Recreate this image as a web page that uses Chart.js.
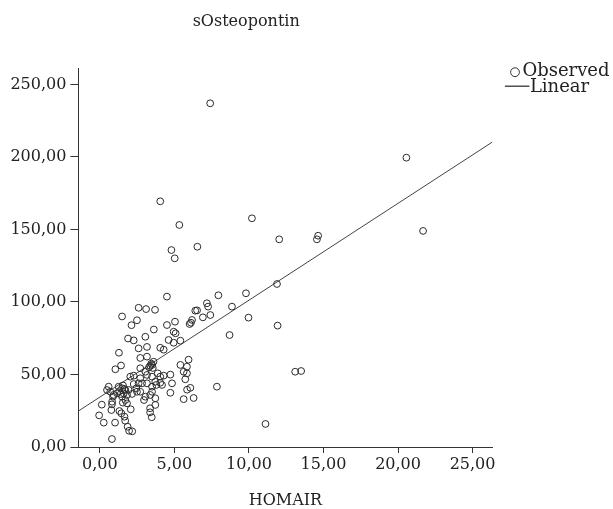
<!DOCTYPE html>
<html lang="en">
<head>
  <meta charset="UTF-8" />
  <script src="https://cdn.jsdelivr.net/npm/chart.js"></script>
  <title>sOsteopontin - HOMAIR</title>
  <style>
    html, body { margin: 0; padding: 0; background: #fff; }
  </style>
</head>
<body>
  <canvas id="grafico" width="613" height="509"></canvas>
  <script>
    // HOMAIR (eje X) y sOsteopontin (eje Y)
    const homair = [
      7.40, 4.05, 5.33, 10.20, 12.03, 14.64, 14.56, 20.56, 21.68, 6.54,
      4.80, 5.02, 11.88, 9.80, 7.95, 4.50, 8.86, 9.97, 11.92, 8.70,
      13.10, 13.50, 11.11, 7.85, 2.60, 3.10, 3.70, 1.49, 2.49, 2.12,
      3.62, 1.89, 2.27, 3.05, 2.60, 3.16, 1.28, 2.71, 4.50, 5.04,
      4.95, 5.08, 4.61, 4.95, 5.40, 4.05, 4.28, 6.40, 6.52, 7.18,
      7.26, 6.91, 7.41, 6.18, 6.11, 6.02, 3.60, 3.50, 3.38, 3.16,
      5.95, 5.40, 5.84, 5.62, 5.84, 5.73, 4.28, 4.05, 4.73, 3.50,
      3.72, 4.17, 6.07, 5.85, 4.73, 6.29, 5.62, 4.84, 3.88, 2.71,
      1.04, 1.42, 2.04, 2.27, 3.05, 3.16, 2.71, 2.83, 2.60, 3.16,
      3.50, 4.05, 3.79, 3.50, 3.38, 3.05, 2.71, 2.49, 2.45, 2.27,
      3.72, 3.72, 3.37, 3.37, 3.48, 2.96, 1.26, 1.49, 1.71, 1.60,
      1.82, 1.49, 1.71, 1.82, 0.59, 0.48, 0.70, 0.92, 0.82, 1.93,
      2.16, 0.88, 1.15, 1.54, 0.81, 0.13, 1.31, 1.44, 1.65, 1.70,
      1.86, 1.96, 2.17, 2.07, -0.05, 0.26, 1.02, 0.81, 0.77, 3.30,
      3.45, 3.55, 1.40, 1.55, 1.30, 1.65
    ];
    const osteopontin = [
      237.0, 169.4, 153.1, 157.7, 143.2, 145.7, 143.2, 199.5, 149.0, 138.1,
      135.8, 130.1, 112.4, 106.0, 104.6, 103.7, 96.8, 89.2, 83.7, 77.2,
      51.9, 52.4, 15.9, 41.6, 96.0, 95.1, 94.6, 90.0, 87.4, 84.0,
      81.0, 74.8, 73.5, 76.0, 68.0, 69.0, 65.0, 61.4, 84.1, 86.4,
      79.5, 78.4, 73.8, 71.9, 73.3, 68.4, 67.1, 94.0, 94.2, 99.1,
      96.8, 89.4, 91.0, 87.6, 85.7, 84.8, 58.8, 56.6, 56.0, 62.3,
      60.2, 56.6, 55.4, 51.9, 50.8, 46.7, 49.2, 48.5, 49.9, 48.5,
      45.0, 42.8, 40.8, 39.5, 37.4, 33.8, 33.0, 43.9, 50.8, 54.3,
      53.6, 56.2, 48.5, 49.2, 51.9, 49.7, 47.4, 43.9, 43.9, 43.9,
      41.6, 44.3, 42.8, 38.1, 35.9, 34.7, 38.1, 38.1, 40.5, 43.4,
      33.6, 29.0, 26.7, 23.9, 20.5, 32.4, 41.6, 40.5, 39.3, 37.0,
      35.9, 34.7, 32.4, 30.1, 41.6, 39.3, 38.1, 35.9, 31.2, 39.3,
      36.6, 34.7, 37.0, 30.6, 29.4, 29.2, 24.8, 23.2, 20.9, 18.1,
      14.0, 11.2, 10.8, 26.0, 21.8, 16.8, 16.8, 5.5, 25.5, 55.0,
      57.5, 54.5, 36.5, 42.5, 38.5, 40.0
    ];
    // extremos de la recta de ajuste lineal
    const lineaX = [-1.44, 26.33];
    const lineaY = [24.8, 210.3];
    const ticksX = [0, 5, 10, 15, 20, 25];
    const ticksY = [0, 50, 100, 150, 200, 250];
    const etiquetas = ['Observed', 'Linear'];

    const fuente = '"DejaVu Serif", serif';
    const formato = v => v.toFixed(2).replace('.', ',');

    // leyenda a la derecha, como en SPSS
    const leyenda = {
      id: 'leyenda',
      afterDraw(chart) {
        const ctx = chart.ctx;
        const x0 = chart.chartArea.right;
        const y0 = chart.chartArea.top;
        ctx.save();
        ctx.font = '18px ' + fuente;
        ctx.fillStyle = '#222';
        ctx.strokeStyle = '#333';
        ctx.lineWidth = 1;
        ctx.textBaseline = 'middle';
        ctx.beginPath();
        ctx.arc(x0 + 22.6, y0 + 4, 4.4, 0, 2 * Math.PI);
        ctx.stroke();
        ctx.fillText(etiquetas[0], x0 + 30, y0 + 3);
        ctx.lineWidth = 1.3;
        ctx.beginPath();
        ctx.moveTo(x0 + 12.5, y0 + 18);
        ctx.lineTo(x0 + 37, y0 + 18);
        ctx.stroke();
        ctx.fillText(etiquetas[1], x0 + 37.5, y0 + 19);
        ctx.restore();
      }
    };

    const ctx = document.getElementById('grafico').getContext('2d');
    new Chart(ctx, {
      type: 'scatter',
      data: {
        datasets: [
          {
            label: etiquetas[0],
            data: homair.map((x, i) => ({ x: x, y: osteopontin[i] })),
            pointRadius: 3.4,
            pointStyle: 'circle',
            borderWidth: 1,
            borderColor: '#2a2a2a',
            backgroundColor: 'rgba(0,0,0,0)'
          },
          {
            type: 'line',
            label: etiquetas[1],
            data: lineaX.map((x, i) => ({ x: x, y: lineaY[i] })),
            pointRadius: 0,
            borderWidth: 1,
            borderColor: '#444',
            fill: false
          }
        ]
      },
      options: {
        responsive: false,
        animation: false,
        devicePixelRatio: 1,
        layout: { padding: { top: 0, right: 120.6, bottom: 0, left: 0 } },
        plugins: {
          legend: { display: false },
          tooltip: { enabled: false },
          title: {
            display: true,
            text: 'sOsteopontin',
            color: '#222',
            font: { family: fuente, size: 16, weight: 'normal' },
            padding: { top: 12, bottom: 37 }
          }
        },
        scales: {
          x: {
            type: 'linear',
            min: -1.44,
            max: 26.33,
            afterFit: s => { s.height = 62; },
            afterBuildTicks: s => { s.ticks = ticksX.map(v => ({ value: v })); },
            border: { color: '#333', width: 1 },
            grid: { drawOnChartArea: false, drawTicks: true, tickLength: 6, color: '#333' },
            ticks: { color: '#222', padding: 2, font: { family: fuente, size: 16 }, callback: formato, maxRotation: 0 },
            title: {
              display: true,
              text: 'HOMAIR',
              color: '#222',
              font: { family: fuente, size: 16, lineHeight: 1 },
              padding: { top: 0, bottom: 0 }
            }
          },
          y: {
            type: 'linear',
            min: 0,
            max: 261.2,
            afterFit: s => { s.width = 78.4; },
            afterBuildTicks: s => { s.ticks = ticksY.map(v => ({ value: v })); },
            border: { color: '#333', width: 1 },
            grid: { drawOnChartArea: false, drawTicks: true, tickLength: 8, color: '#333' },
            ticks: { color: '#222', padding: 4, font: { family: fuente, size: 16 }, callback: formato }
          }
        }
      },
      plugins: [leyenda]
    });
  </script>
</body>
</html>
